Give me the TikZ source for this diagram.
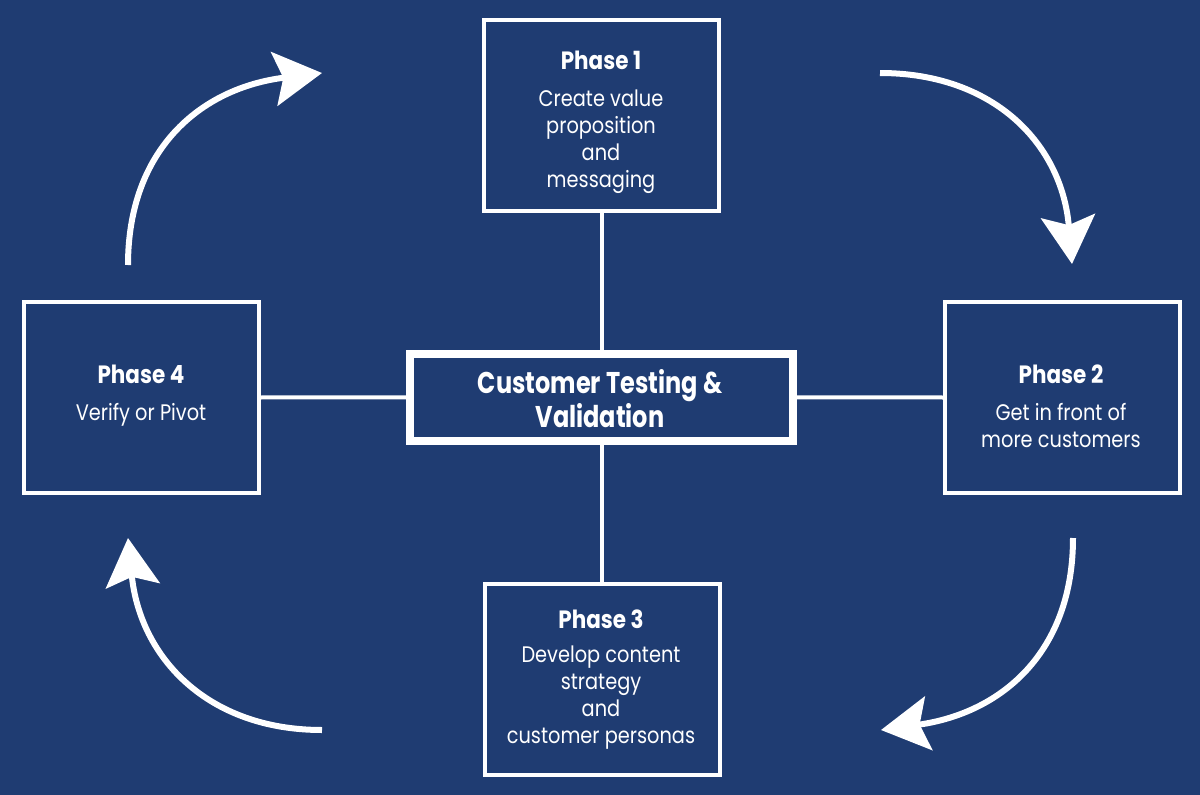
\documentclass[tikz,border=0pt]{standalone}
\usepackage{fontspec}
\setmainfont{Poppins}[FakeStretch=0.86]
\newfontfamily\ctrfont{Poppins}[FakeStretch=0.8]
\usetikzlibrary{arrows.meta}
\definecolor{bgnavy}{RGB}{31,60,114}
\begin{document}
\begin{tikzpicture}[x=1pt,y=-1pt,
  phasebox/.style={draw=white, line width=4pt, minimum width=235pt, minimum height=191pt, inner sep=0pt, outer sep=0pt},
  centerbox/.style={draw=white, line width=8pt, minimum width=383pt, minimum height=86.5pt, inner sep=0pt, outer sep=0pt},
  title/.style={text=white, font=\bfseries\fontsize{25}{28}\selectfont, anchor=base, inner sep=0pt},
  body/.style={text=white, font=\fontsize{22.5}{27}\selectfont, align=center, anchor=base, inner sep=0pt},
  ctext/.style={text=white, font=\ctrfont\bfseries\fontsize{30}{34}\selectfont, align=center, anchor=base, inner sep=0pt},
  link/.style={draw=white, line width=4pt},
  cyc/.style={draw=white, line width=6pt, -{Stealth[length=48pt, width=54pt, inset=9pt]}}
]
\fill[bgnavy] (0,0) rectangle (1200,795);
\useasboundingbox (0,0) rectangle (1200,795);

\node[phasebox] (p1) at (601.5,115) {};
\node[phasebox] (p2) at (1062,397.5) {};
\node[phasebox] (p3) at (602,679) {};
\node[phasebox] (p4) at (141.5,397.5) {};
\node[centerbox] (c) at (601,397.25) {};

\draw[link] (p1.south) -- (p1.south |- c.north);
\draw[link] (p3.north) -- (p3.north |- c.south);
\draw[link] (p4.east) -- (c.west);
\draw[link] (c.east) -- (p2.west);

% base anchor of a multi-line node = baseline of its last line
\node[title] (t1) at (601,69) {Phase 1};
\node[body] (b1) at (601,187) {Create value\\proposition\\and\\messaging};
\node[title] (t2) at (1061,383) {Phase 2};
\node[body] (b2) at (1061,447.5) {Get in front of\\more customers};
\node[title] (t3) at (601,628) {Phase 3};
\node[body] (b3) at (601,743) {Develop content\\strategy\\and\\customer personas};
\node[title] (t4) at (141,383) {Phase 4};
\node[body] (b4) at (141,420) {Verify or Pivot};
\node[ctext] (ct) at (600,427) {Customer Testing \&\\Validation};

\coordinate (a1s) at (128,265);
\coordinate (a1e) at (322,73);
\coordinate (a2s) at (880,73);
\coordinate (a2e) at (1072,264);
\coordinate (a3s) at (1073,538);
\coordinate (a3e) at (881,730);
\coordinate (a4s) at (322,730);
\coordinate (a4e) at (128,538);
\draw[cyc] (a1s) .. controls (128,150) and (200,88) .. (a1e);
\draw[cyc] (a2s) .. controls (995,73) and (1062,145) .. (a2e);
\draw[cyc] (a3s) .. controls (1073,652) and (1002,713) .. (a3e);
\draw[cyc] (a4s) .. controls (207,730) and (140,657) .. (a4e);
\end{tikzpicture}
\end{document}
